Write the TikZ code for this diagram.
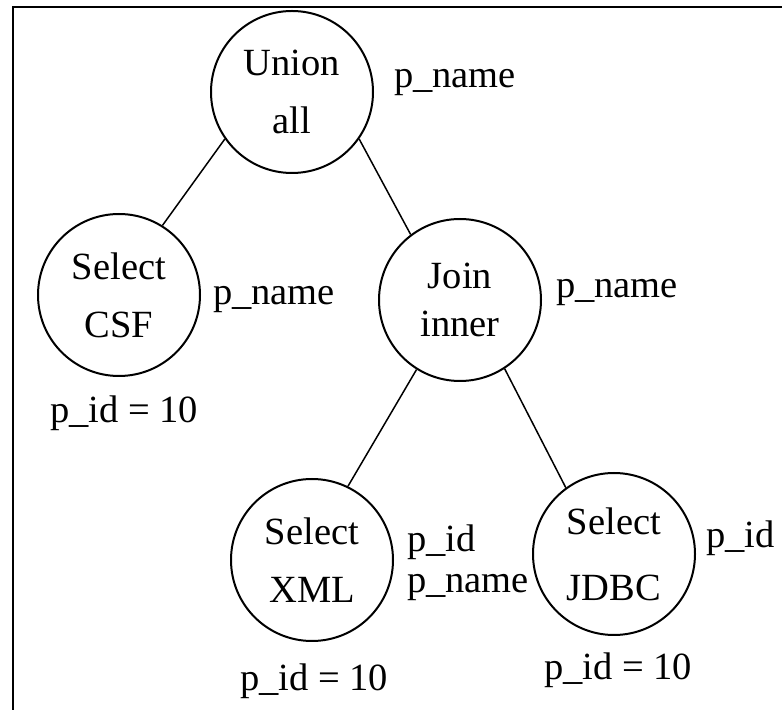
\documentclass[tikz,border=0pt]{standalone}
\usepackage{fontspec}
\setmainfont{Liberation Serif}

\begin{document}
\begin{tikzpicture}[x=0.5pt, y=-0.5pt,
		font=\fontsize{19.25}{29}\selectfont,
		every node/.style={circle, draw, line width=1pt, minimum size=81pt, inner sep=0pt, align=center},
		attr/.style={draw=none, rectangle, minimum size=0pt, anchor=base west, align=left}]
			\useasboundingbox (0, 0) rectangle (782, 710);
			\draw[line width=1.25pt] (13, 710) -- (13, 7) -- (782, 7);

			\node (union) at (292, 92) {Union\\all};
			\node (csf) at (119, 295) {Select\\CSF};
			\node (join) at (460, 300) {Join\\[-5pt]inner};
			\node (xml) at (312, 560) {Select\\XML};
			\node (jdbc) at (614, 554) {Select\\[4pt]JDBC};

			\node[attr] (union-out) at (393, 88) {p\_name};
			\node[attr] (csf-out) at (212, 305) {p\_name};
			\node[attr] (csf-cond) at (49, 423) {p\_id = 10};
			\node[attr] (join-out) at (555, 298) {p\_name};
			\node[attr, font=\fontsize{19.25}{20.5}\selectfont] (xml-out) at (406, 593) {p\_id\\p\_name};
			\node[attr] (xml-cond) at (239, 690) {p\_id = 10};
			\node[attr] (jdbc-out) at (705, 548) {p\_id};
			\node[attr] (jdbc-cond) at (543, 680) {p\_id = 10};

			\draw[line width=0.75pt] (union.215) -- (csf.58);
			\draw[line width=0.75pt] (union.325) -- (join.127);
			\draw[line width=0.75pt] (join.238) -- (xml.64);
			\draw[line width=0.75pt] (join.303) -- (jdbc.126);
		\end{tikzpicture}
\end{document}
